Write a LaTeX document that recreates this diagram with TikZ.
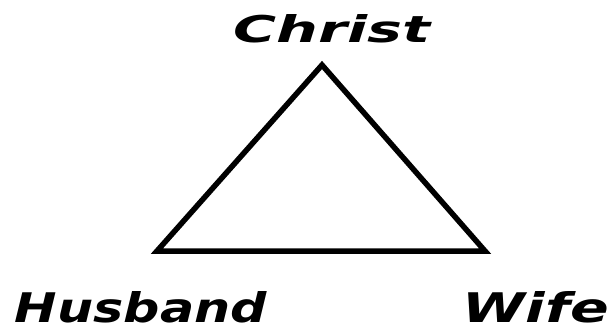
\documentclass[tikz,border=0pt]{standalone}
\usepackage{fontspec}
\setmainfont{DejaVu Sans}
\usepackage{graphicx}
\usetikzlibrary{positioning}

% stretched label text: width, height, text
\newcommand{\trilabel}[3]{\resizebox{#1}{#2}{\bfseries\itshape #3}}

\begin{document}
\begin{tikzpicture}[x=1pt, y=-1pt,
		side/.style={line width=5.5pt, line join=miter, black},
		lbl/.style={inner sep=0pt, outer sep=0pt, black}]
			\useasboundingbox (0,0) rectangle (612,333);
			
			% Corners
			\coordinate (top) at (322,65);
			\coordinate (left) at (157,251);
			\coordinate (right) at (485,251);
			
			% Triangle
			\draw[side] (top) -- (right) -- (left) -- cycle;
			
			% Labels
			\node[lbl] (christ) at (332,29) {\trilabel{197pt}{28pt}{Christ}};
			\node[lbl] (husband) at (141,307) {\trilabel{252pt}{31pt}{Husband}};
			\node[lbl] (wife) at (536,307) {\trilabel{146pt}{31pt}{Wife}};
		\end{tikzpicture}
\end{document}
